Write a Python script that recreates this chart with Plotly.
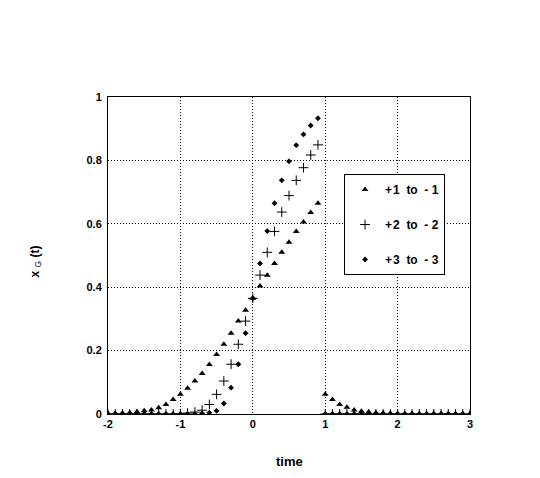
import plotly.graph_objects as go

# --- data ---
TIME = [-2.0, -1.9, -1.8, -1.7, -1.6, -1.5, -1.4, -1.3, -1.2, -1.1,
        -1.0, -0.9, -0.8, -0.7, -0.6, -0.5, -0.4, -0.3, -0.2, -0.1,
        0.0, 0.1, 0.2, 0.3, 0.4, 0.5, 0.6, 0.7, 0.8, 0.9,
        1.0, 1.1, 1.2, 1.3, 1.4, 1.5, 1.6, 1.7, 1.8, 1.9,
        2.0, 2.1, 2.2, 2.3, 2.4, 2.5, 2.6, 2.7, 2.8, 2.9, 3.0]

X_1 = [0.001, 0.002, 0.003, 0.004, 0.007, 0.010, 0.013, 0.020, 0.030, 0.046,
       0.062, 0.081, 0.104, 0.128, 0.156, 0.188, 0.220, 0.255, 0.293, 0.327,
       0.365, 0.404, 0.438, 0.475, 0.510, 0.542, 0.576, 0.606, 0.636, 0.665,
       0.062, 0.046, 0.030, 0.021, 0.013, 0.009, 0.006, 0.004, 0.003, 0.002,
       0.001, 0.001, 0.001, 0.0, 0.0, 0.0, 0.0, 0.0, 0.0, 0.0, 0.0]

X_2 = [0.0, 0.0, 0.0, 0.0, 0.0, 0.0, 0.0, 0.0, 0.0, 0.0,
       0.001, 0.003, 0.006, 0.012, 0.030, 0.062, 0.104, 0.157, 0.220, 0.293,
       0.365, 0.438, 0.510, 0.576, 0.637, 0.689, 0.737, 0.777, 0.817, 0.849,
       0.0, 0.0, 0.0, 0.0, 0.0, 0.0, 0.0, 0.0, 0.0, 0.0,
       0.0, 0.0, 0.0, 0.0, 0.0, 0.0, 0.0, 0.0, 0.0, 0.0, 0.0]

X_3 = [0.0, 0.0, 0.0, 0.0, 0.0, 0.0, 0.0, 0.0, 0.0, 0.0,
       0.0, 0.0, 0.0, 0.002, 0.004, 0.010, 0.033, 0.083, 0.157, 0.255,
       0.365, 0.475, 0.577, 0.665, 0.737, 0.797, 0.848, 0.882, 0.910, 0.933,
       0.0, 0.0, 0.0, 0.0, 0.0, 0.0, 0.0, 0.0, 0.0, 0.0,
       0.0, 0.0, 0.0, 0.0, 0.0, 0.0, 0.0, 0.0, 0.0, 0.0, 0.0]

SERIES_NAMES = ["+\u200a1\u00a0\u00a0to\u00a0\u00a0-\u2009\u200a1",
                "+\u200a2\u00a0\u00a0to\u00a0\u00a0-\u2009\u200a2",
                "+\u200a3\u00a0\u00a0to\u00a0\u00a0-\u2009\u200a3"]
X_TICKS = [-2, -1, 0, 1, 2, 3]
X_TICK_TEXT = ["-2", "-1", "0", "1", "2", "3"]
Y_TICKS = [0, 0.2, 0.4, 0.6, 0.8, 1]
Y_TICK_TEXT = ["0", "0.2", "0.4", "0.6", "0.8", "1"]

FONT = "Liberation Sans, Arial, sans-serif"

fig = go.Figure()
markers = [
    dict(symbol="triangle-up", size=6, color="black"),
    dict(symbol="cross-thin", size=7, color="black", line=dict(width=1, color="black")),
    dict(symbol="diamond", size=4.5, color="black"),
]
for i, (name, vals) in enumerate(zip(SERIES_NAMES, [X_1, X_2, X_3])):
    fig.add_trace(go.Scatter(
        x=TIME, y=vals, mode="markers", name=name,
        marker=markers[i], legendgroup=str(i),
    ))

axis_common = dict(
    showline=True, mirror=True, linecolor="black", linewidth=1,
    showgrid=True, gridcolor="black", griddash="1px,2px", gridwidth=1,
    zeroline=False, ticks="",
    tickfont=dict(family=FONT, size=11, color="black", weight="bold"),
)
fig.update_xaxes(range=[-2, 3], tickvals=X_TICKS, ticktext=X_TICK_TEXT, **axis_common)
fig.update_yaxes(range=[0, 1], tickvals=Y_TICKS, ticktext=Y_TICK_TEXT,
                 ticklabelstandoff=3, **axis_common)

# the page is drawn 8px right / 7px down, so the margins are shifted to compensate
fig.update_layout(
    width=540, height=478,
    margin=dict(l=100, r=78, t=89, b=72),
    plot_bgcolor="white", paper_bgcolor="white",
    font=dict(family=FONT, color="black"),
    showlegend=True,
    legend=dict(
        x=0.652, y=0.757, xanchor="left", yanchor="top",
        bordercolor="black", borderwidth=1, bgcolor="white",
        font=dict(family=FONT, size=12, color="black", weight="bold"),
        tracegroupgap=16,
    ),
    annotations=[
        dict(text="<b>time</b>", xref="paper", yref="paper", x=0.5, y=-0.151,
             xanchor="center", yanchor="middle", showarrow=False,
             font=dict(family=FONT, size=13, color="black")),
        dict(text="<b>x</b> <sub>G</sub> <b>(t)</b>", xref="paper", yref="paper",
             x=-0.2, y=0.48, xanchor="center", yanchor="middle", textangle=-90,
             showarrow=False, font=dict(family=FONT, size=12, color="black")),
    ],
)

fig.write_html("out.html")
